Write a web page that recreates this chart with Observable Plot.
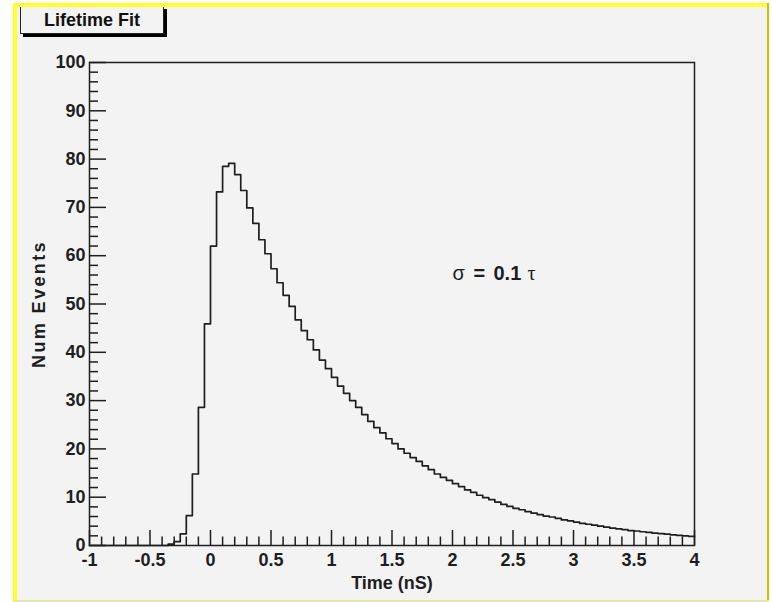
<!DOCTYPE html>
<html>
<head>
<meta charset="utf-8">
<script src="https://cdn.jsdelivr.net/npm/d3@7"></script>
<script src="https://cdn.jsdelivr.net/npm/@observablehq/plot@0.6"></script>
<style>
  html, body { margin: 0; padding: 0; background: #ffffff; }
  #wrap { position: relative; width: 772px; height: 602px; overflow: hidden; font-family: "Liberation Sans", Arial, sans-serif; }
  .abs { position: absolute; }
  #canvasbg { left: 13px; top: 3px; width: 756px; height: 599px; background: #f3f3f3; }
  #btop { left: 13px; top: 3px; width: 756px; height: 4px; background: #ffff2a; z-index: 5; }
  #bleft { left: 13px; top: 3px; width: 4px; height: 599px; background: #ffff2a; z-index: 5; }
  #bright { left: 767px; top: 3px; width: 2px; height: 599px; background: #c8c000; z-index: 5; }
  #bbottom { left: 13px; top: 600px; width: 756px; height: 2px; background: #e6e6a8; z-index: 5; }
  #chart { left: 0; top: 0; z-index: 2; }
  #title { left: 20px; top: 6px; width: 142px; height: 26px; border: 1px solid #222; background: #f3f3f3;
           box-shadow: 3px 3px 0 #000; z-index: 4; font-weight: bold; font-size: 18px; line-height: 27px; text-align: center; color: #111; }
</style>
</head>
<body>
<div id="wrap">
  <div id="canvasbg" class="abs"></div>
  <div id="chart" class="abs"></div>
  <div id="title" class="abs"></div>
  <div id="btop" class="abs"></div>
  <div id="bleft" class="abs"></div>
  <div id="bright" class="abs"></div>
  <div id="bbottom" class="abs"></div>
</div>
<script>
// ---- data ----
const titleText = "Lifetime Fit";
const xTitle = "Time (nS)";
const yTitle = "Num Events";
const binStart = -1;
const binWidth = 0.05;
const counts = [
  0, 0, 0, 0, 0, 0, 0, 0, 0, 0,
  0, 0, 0, 0.3, 0.8, 2.4, 6.2, 14.8, 28.6, 45.9,
  62.0, 73.2, 78.5, 79.1, 76.8, 73.5, 69.9, 66.7, 63.3, 60.4,
  57.3, 54.4, 51.8, 49.5, 46.7, 44.5, 42.6, 40.5, 38.4, 36.6,
  34.8, 33.0, 31.5, 30.0, 28.6, 27.1, 25.7, 24.4, 23.3, 22.1,
  21.1, 20.0, 19.1, 18.2, 17.4, 16.5, 15.7, 14.8, 14.1, 13.5,
  12.8, 12.2, 11.5, 11.0, 10.4, 9.9, 9.5, 9.0, 8.5, 8.1,
  7.7, 7.4, 7.0, 6.7, 6.4, 6.1, 5.9, 5.6, 5.3, 5.1,
  4.85, 4.6, 4.4, 4.2, 4.0, 3.8, 3.6, 3.45, 3.3, 3.1,
  3.0, 2.85, 2.7, 2.55, 2.45, 2.35, 2.2, 2.1, 2.0, 1.9
];
const xTicks = [-1, -0.5, 0, 0.5, 1, 1.5, 2, 2.5, 3, 3.5, 4];
const yTicks = [0, 10, 20, 30, 40, 50, 60, 70, 80, 90, 100];
const xMinor = d3.range(-9, 40).map(k => k / 10).filter(v => Math.abs(v * 2 - Math.round(v * 2)) > 1e-9);
const yMinor = d3.range(2, 100, 2).filter(v => v % 10 !== 0);
const noteParts = ["σ", "=", "0.1", "τ"];

// ---- build histogram outline ----
const steps = counts.map((c, i) => ({x: binStart + i * binWidth, y: c}));
steps.push({x: binStart + counts.length * binWidth, y: counts[counts.length - 1]});

const W = 772, H = 602;
const mL = 89, mR = 78, mT = 62, mB = 57;
const fw = W - mL - mR, fh = H - mT - mB;
const ink = "#1e1e1e";
const font = "Liberation Sans, Arial, sans-serif";

const chart = Plot.plot({
  width: W, height: H,
  marginLeft: mL, marginRight: mR, marginTop: mT, marginBottom: mB,
  style: {background: "transparent", fontFamily: font, color: ink},
  x: {domain: [-1, 4]},
  y: {domain: [0, 100]},
  marks: [
    Plot.frame({stroke: ink, strokeWidth: 1.5}),
    // ticks drawn inward like ROOT
    Plot.tickY(yTicks, {y: d => d, insetRight: fw - 17, stroke: ink, strokeWidth: 1.5}),
    Plot.tickY(yMinor, {y: d => d, insetRight: fw - 9, stroke: ink, strokeWidth: 1.5}),
    Plot.tickX(xTicks, {x: d => d, insetTop: fh - 15, stroke: ink, strokeWidth: 1.5}),
    Plot.tickX(xMinor, {x: d => d, insetTop: fh - 8.5, stroke: ink, strokeWidth: 1.5}),
    Plot.axisX(xTicks, {tickSize: 0, tickPadding: 8, tickFormat: d => String(d), fontSize: 18, fontWeight: "bold", label: null, fill: ink}),
    Plot.axisY(yTicks, {tickSize: 0, tickPadding: 4, tickFormat: d => String(d), fontSize: 18, fontWeight: "bold", label: null, fill: ink}),
    Plot.text([xTitle], {text: d => d, frameAnchor: "bottom", dy: 31, lineAnchor: "top", fontSize: 18, fontWeight: "bold", fill: ink}),
    Plot.text([yTitle], {text: d => d, frameAnchor: "left", dx: -50.5, rotate: -90, textAnchor: "middle", lineAnchor: "middle", fontSize: 18, fontWeight: "bold", fill: ink}),
    Plot.line(steps, {x: "x", y: "y", curve: "step-after", stroke: ink, strokeWidth: 1.7}),
    Plot.text([noteParts[0]], {text: d => d, x: 2.0, y: 58, textAnchor: "start", lineAnchor: "top", fontSize: 20, fill: ink}),
    Plot.text([noteParts[1]], {text: d => d, x: 2.0, y: 58, dx: 21, textAnchor: "start", lineAnchor: "top", fontSize: 20, fontWeight: "bold", fill: ink}),
    Plot.text([noteParts[2]], {text: d => d, x: 2.0, y: 58, dx: 41, textAnchor: "start", lineAnchor: "top", fontSize: 20, fontWeight: "bold", fill: ink}),
    Plot.text([noteParts[3]], {text: d => d, x: 2.0, y: 58, dx: 75, textAnchor: "start", lineAnchor: "top", fontSize: 20, fill: ink, fontFamily: "Liberation Serif, serif"})
  ]
});

d3.select(chart).selectAll("text").filter(function () { return this.textContent === yTitle; })
  .attr("letter-spacing", "2.4px");

document.getElementById("chart").appendChild(chart);
document.getElementById("title").textContent = titleText;
</script>
</body>
</html>
